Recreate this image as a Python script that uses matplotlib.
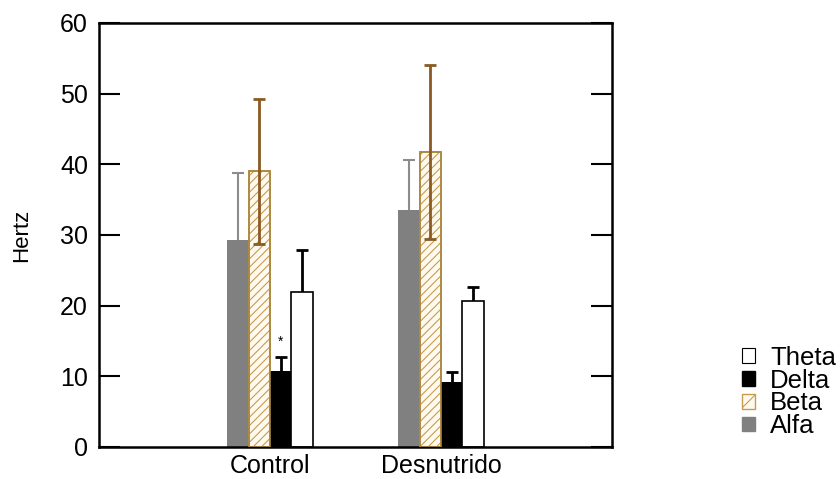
import numpy as np
import matplotlib.pyplot as plt
from matplotlib.patches import Patch

plt.rcParams['font.family'] = ['Liberation Sans', 'DejaVu Sans']
plt.rcParams['hatch.linewidth'] = 0.8

groups = ['Control', 'Desnutrido']
series = ['Alfa', 'Beta', 'Delta', 'Theta']
alfa = [29.3, 33.6]
alfa_err = [9.5, 7.0]
beta = [39.0, 41.7]
beta_err = [10.3, 12.3]
delta = [10.7, 9.2]
delta_err = [2.0, 1.4]
theta = [21.9, 20.6]
theta_err = [6.0, 2.0]

brown = '#8a5a22'

fig = plt.figure(figsize=(8.4, 4.79), dpi=100)
ax = fig.add_axes([99 / 840, 1 - 447 / 479, 513 / 840, 424 / 479])

x = np.array([1, 2])
w = 0.125
offs = [-1.5 * w, -0.5 * w, 0.5 * w, 1.5 * w]

# alfa
ax.errorbar(x + offs[0], alfa, yerr=alfa_err, fmt='none', ecolor='#8c8c8c',
            elinewidth=1.5, capsize=4, capthick=1.5, zorder=1)
ax.bar(x + offs[0], alfa, w, color='#808080', zorder=2)
# beta
ax.bar(x + offs[1], beta, w, facecolor='#fffaf0', edgecolor='#c89a50',
       hatch='////', linewidth=1.2, zorder=2)
ax.bar(x + offs[1], beta, w, facecolor='none', edgecolor='#a8873f',
       linewidth=1.2, zorder=3)
ax.errorbar(x + offs[1], beta, yerr=beta_err, fmt='none', ecolor=brown,
            elinewidth=2, capsize=4, capthick=2, zorder=4)
# delta
ax.errorbar(x + offs[2], delta, yerr=delta_err, fmt='none', ecolor='black',
            elinewidth=2, capsize=4, capthick=2, zorder=1)
ax.bar(x + offs[2], delta, w, color='black', zorder=2)
# theta
ax.errorbar(x + offs[3], theta, yerr=theta_err, fmt='none', ecolor='black',
            elinewidth=2, capsize=4, capthick=2, zorder=1)
ax.bar(x + offs[3], theta, w, facecolor='white', edgecolor='black',
       linewidth=1.2, zorder=2)

ax.text(x[0] + offs[2], delta[0] + delta_err[0] + 1.2, '*', ha='center',
        va='bottom', fontsize=10)

ax.set_xlim(0, 3)
ax.set_ylim(0, 60)
ax.set_yticks(range(0, 61, 10))
ax.set_xticks(x)
ax.set_xticklabels(groups, fontsize=18)
ax.tick_params(axis='x', length=0, pad=5)
ax.tick_params(axis='y', direction='in', length=15, width=1.5, labelsize=18,
               right=True, pad=8)
for s in ax.spines.values():
    s.set_linewidth(1.8)
ax.set_ylabel('Hertz', fontsize=16, labelpad=20)

handles = [Patch(facecolor='white', edgecolor='black', linewidth=0.8),
           Patch(facecolor='black', edgecolor='black'),
           Patch(facecolor='#fffaf0', edgecolor='#c89a50', hatch='//'),
           Patch(facecolor='#808080', edgecolor='#808080')]
fig.legend(handles, ['Theta', 'Delta', 'Beta', 'Alfa'], loc='center left',
           bbox_to_anchor=(724 / 840, 1 - 392 / 479), frameon=False,
           fontsize=18.5, handlelength=0.5, handleheight=0.5,
           handletextpad=0.6, labelspacing=-0.05, borderpad=0.2)

fig.savefig('out.png', dpi=100)
